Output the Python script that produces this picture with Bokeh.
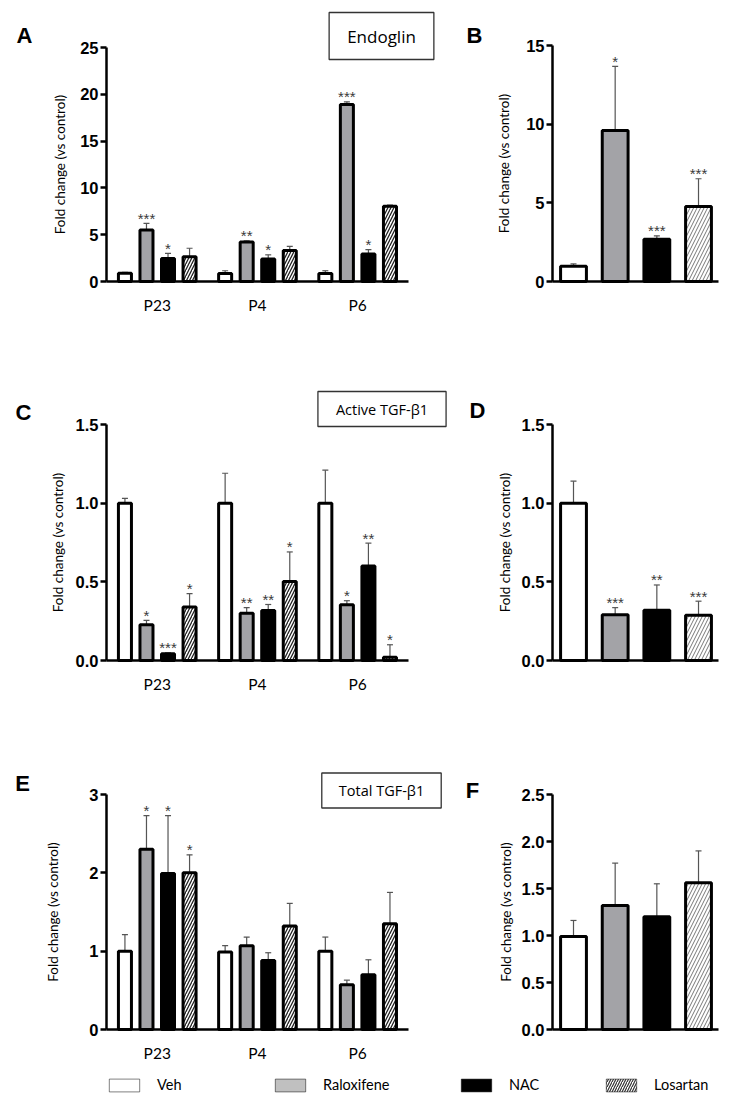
from bokeh.plotting import figure
from bokeh.layouts import column, row
from bokeh.models import (ColumnDataSource, Range1d, FixedTicker, Whisker, TeeHead,
                          Label, Legend, LegendItem, NumeralTickFormatter)
from bokeh.embed import file_html
from bokeh.resources import INLINE
from bokeh.core.properties import value

# ---------------- data ----------------
groups = ["P23", "P4", "P6"]
treatments = ["Veh", "Raloxifene", "NAC", "Losartan"]

# Panel A: Endoglin per passage (rows = groups, cols = treatments)
endoglin_mean = [[0.88, 5.50, 2.45, 2.65], [0.85, 4.22, 2.40, 3.30], [0.85, 18.90, 2.95, 8.05]]
endoglin_sem = [[0.10, 0.70, 0.55, 0.90], [0.30, 0.13, 0.45, 0.45], [0.30, 0.30, 0.45, 0.10]]
endoglin_sig = [["", "***", "*", ""], ["", "**", "*", ""], ["", "***", "*", ""]]
# Panel B: Endoglin pooled
endoglin_all_mean = [0.97, 9.60, 2.69, 4.77]
endoglin_all_sem = [0.15, 4.07, 0.21, 1.76]
endoglin_all_sig = ["", "*", "***", "***"]
# Panel C: Active TGF-b1 per passage
active_mean = [[1.00, 0.228, 0.043, 0.34], [1.00, 0.30, 0.318, 0.502], [1.00, 0.354, 0.60, 0.02]]
active_sem = [[0.03, 0.027, 0.005, 0.085], [0.19, 0.036, 0.038, 0.188], [0.21, 0.026, 0.146, 0.08]]
active_sig = [["", "*", "***", "*"], ["", "**", "**", "*"], ["", "*", "**", "*"]]
# Panel D: Active TGF-b1 pooled
active_all_mean = [1.00, 0.29, 0.32, 0.287]
active_all_sem = [0.14, 0.046, 0.16, 0.09]
active_all_sig = ["", "***", "**", "***"]
# Panel E: Total TGF-b1 per passage
total_mean = [[1.00, 2.30, 1.99, 2.00], [0.99, 1.07, 0.88, 1.32], [1.00, 0.57, 0.70, 1.35]]
total_sem = [[0.21, 0.43, 0.74, 0.23], [0.08, 0.11, 0.10, 0.29], [0.18, 0.06, 0.19, 0.40]]
total_sig = [["", "*", "*", "*"], ["", "", "", ""], ["", "", "", ""]]
# Panel F: Total TGF-b1 pooled
total_all_mean = [0.99, 1.32, 1.20, 1.56]
total_all_sem = [0.17, 0.45, 0.35, 0.34]
total_all_sig = ["", "", "", ""]

# ---------------- styles ----------------
FILLS = ["white", "#a3a3a7", "black", "white"]
HATCH = [None, None, None, "/"]
LEG_FILLS = ["white", "#c0c0c0", "black", "white"]
TICK_FONT = "Liberation Sans"
LABEL_FONT = "Lato"
BOX_FONT = "Open Sans"


class Panel:
    """Figure whose frame fills its canvas; axes drawn at fixed locations."""

    def __init__(self, canvas, xmap, ymap, axis_px, yticks, fmt, standoff, grouped):
        cl, ct, cw, ch = canvas
        self.xmap, self.ymap = xmap, ymap
        x0, x1 = self.xd(cl), self.xd(cl + cw)
        y0, y1 = self.yd(ct + ch), self.yd(ct)
        p = figure(width=cw, height=ch, x_range=Range1d(x0, x1), y_range=Range1d(y0, y1),
                   min_border=0, min_border_left=0, min_border_right=0,
                   min_border_top=0, min_border_bottom=0,
                   toolbar_location=None, output_backend="svg",
                   outline_line_color=None, background_fill_color="white",
                   border_fill_color="white")
        p.xgrid.visible = False
        p.ygrid.visible = False
        ax_left, ax_right = axis_px
        xa_lo, xa_hi = self.xd(ax_left), self.xd(ax_right)
        # y axis
        ya = p.yaxis[0]
        ya.fixed_location = xa_lo
        ya.bounds = (yticks[0], yticks[-1])
        ya.ticker = FixedTicker(ticks=yticks)
        if fmt:
            ya.formatter = NumeralTickFormatter(format=fmt)
        ya.axis_line_width = 2.5
        ya.major_tick_line_width = 2.5
        ya.major_tick_in = 0
        ya.major_tick_out = 6
        ya.minor_tick_line_color = None
        ya.major_label_text_font = TICK_FONT
        ya.major_label_text_font_style = "bold"
        ya.major_label_text_font_size = "16.5px"
        ya.major_label_text_color = "black"
        ya.major_label_standoff = 2
        ya.axis_label = "Fold change (vs control)"
        ya.axis_label_text_font = LABEL_FONT
        ya.axis_label_text_font_style = "normal"
        ya.axis_label_text_font_size = "13.5px"
        ya.axis_label_text_color = "black"
        ya.axis_label_standoff = standoff
        # x axis
        xa = p.xaxis[0]
        xa.fixed_location = 0
        xa.bounds = (xa_lo, xa_hi)
        xa.axis_line_width = 2.5
        xa.minor_tick_line_color = None
        xa.major_tick_line_color = None
        if grouped:
            xa.ticker = FixedTicker(ticks=[0, 1, 2])
            xa.major_label_overrides = {0: groups[0], 1: groups[1], 2: groups[2]}
            xa.major_label_text_font = LABEL_FONT
            xa.major_label_text_font_size = "15.5px"
            xa.major_label_text_color = "black"
            xa.major_label_standoff = 8
        else:
            xa.ticker = FixedTicker(ticks=[])
        self.p = p

    def xd(self, px):
        ref_px, ref_d, ppu = self.xmap
        return ref_d + (px - ref_px) / ppu

    def yd(self, py):
        zero_py, ppu = self.ymap
        return (zero_py - py) / ppu

    def letter(self, px, py, txt):
        self.p.add_layout(Label(x=self.xd(px), y=self.yd(py), text=txt, text_align="center",
                                text_baseline="middle", text_font=TICK_FONT,
                                text_font_style="bold", text_font_size="22px",
                                text_color="black"))

    def boxed(self, px, py, txt, size, hpad, vpad):
        self.p.add_layout(Label(x=self.xd(px), y=self.yd(py), text=txt, text_align="center",
                                text_baseline="middle", text_font=BOX_FONT,
                                text_font_size=size, text_color="black",
                                border_line_color="#333333", border_line_width=1.3,
                                background_fill_color="white",
                                padding=dict(left=hpad, right=hpad, top=vpad, bottom=vpad)))


def add_bars(p, xs_list, tops_list, sems_list, sigs_list, width, hatch_color, hatch_scale, hatch_weight):
    all_x, all_top, all_sig = [], [], []
    for j in range(len(treatments)):
        xs = xs_list[j]
        tops = tops_list[j]
        sems = sems_list[j]
        src = ColumnDataSource(dict(x=xs, top=tops, up=[t + s for t, s in zip(tops, sems)]))
        kw = {}
        if HATCH[j]:
            kw = dict(hatch_pattern=HATCH[j], hatch_color=hatch_color,
                      hatch_scale=hatch_scale, hatch_weight=hatch_weight)
        p.vbar(x="x", top="top", bottom=0, width=width, source=src,
               fill_color=FILLS[j], line_color="black", line_width=3, **kw)
        w = Whisker(source=src, base="x", lower="top", upper="up", dimension="height",
                    line_color="#555555", line_width=1.2, lower_head=None,
                    upper_head=TeeHead(size=6, line_color="#555555", line_width=1.2))
        p.add_layout(w)
        for x, u, s in zip(xs, src.data["up"], sigs_list[j]):
            if s:
                all_x.append(x)
                all_top.append(u)
                all_sig.append(s)
    if all_x:
        ssrc = ColumnDataSource(dict(x=all_x, y=all_top, t=all_sig))
        p.text(x="x", y="y", text="t", source=ssrc, text_align="center",
               text_baseline="alphabetic", y_offset=-5, text_font=value(TICK_FONT),
               text_font_size="15px", text_color="#3a3a3a")


def grouped_panel(canvas, ymap, yticks, fmt, standoff, mean, sem, sig):
    pan = Panel(canvas, (156.75, 0.0, 100.2), ymap, (106, 408), yticks, fmt, standoff, True)
    xs_list, tops_list, sems_list, sigs_list = [], [], [], []
    for j in range(len(treatments)):
        xs_list.append([g + (j - 1.5) * 0.215 for g in range(len(groups))])
        tops_list.append([mean[g][j] for g in range(len(groups))])
        sems_list.append([sem[g][j] for g in range(len(groups))])
        sigs_list.append([sig[g][j] for g in range(len(groups))])
    add_bars(pan.p, xs_list, tops_list, sems_list, sigs_list, 0.13, "#222222", 6, 1.3)
    return pan


def pooled_panel(canvas, ymap, yticks, fmt, standoff, mean, sem, sig):
    pan = Panel(canvas, (573.0, 0.0, 41.67), ymap, (552, 718), yticks, fmt, standoff, False)
    add_bars(pan.p, [[j] for j in range(4)], [[mean[j]] for j in range(4)],
             [[sem[j]] for j in range(4)], [[sig[j]] for j in range(4)],
             0.62, "#777777", 7, 1.0)
    return pan


LW, RW = 455, 274
R1, R2, R3, RL = (0, 328), (328, 372), (700, 368), (1068, 36)

pA = grouped_panel((0, R1[0], LW, R1[1]), (281, 234 / 25), [0, 5, 10, 15, 20, 25],
                   None, 9, endoglin_mean, endoglin_sem, endoglin_sig)
pB = pooled_panel((LW, R1[0], RW, R1[1]), (281, 236 / 15), [0, 5, 10, 15],
                  None, 11, endoglin_all_mean, endoglin_all_sem, endoglin_all_sig)
pC = grouped_panel((0, R2[0], LW, R2[1]), (660, 236 / 1.5), [0, 0.5, 1.0, 1.5],
                   "0.0", 7, active_mean, active_sem, active_sig)
pD = pooled_panel((LW, R2[0], RW, R2[1]), (660, 236 / 1.5), [0, 0.5, 1.0, 1.5],
                  "0.0", 6, active_all_mean, active_all_sem, active_all_sig)
pE = grouped_panel((0, R3[0], LW, R3[1]), (1029, 235 / 3), [0, 1, 2, 3],
                   None, 25, total_mean, total_sem, total_sig)
pF = pooled_panel((LW, R3[0], RW, R3[1]), (1029, 235 / 2.5),
                  [0, 0.5, 1.0, 1.5, 2.0, 2.5], "0.0", 5,
                  total_all_mean, total_all_sem, total_all_sig)

pA.letter(24, 35, "A")
pB.letter(474, 35, "B")
pC.letter(23, 412, "C")
pD.letter(477, 410, "D")
pE.letter(22, 783, "E")
pF.letter(472, 790, "F")
pA.boxed(381, 35.5, "Endoglin", "17px", 18, 12)
pC.boxed(381.5, 408.5, "Active TGF-β1", "14.5px", 18, 8)
pE.boxed(381, 790, "Total TGF-β1", "14.5px", 17, 8)

# ---------------- legend ----------------
LEG_W = LW + RW
pL = figure(width=LEG_W, height=RL[1], x_range=Range1d(0, 1), y_range=Range1d(0, 1),
            min_border=0, min_border_left=0, min_border_right=0, min_border_top=0,
            min_border_bottom=0, toolbar_location=None, output_backend="svg",
            x_axis_location=None, y_axis_location=None, outline_line_color=None)
pL.xgrid.visible = False
pL.ygrid.visible = False
leg_x = [105, 271, 457, 602]
leg_bottom = (RL[0] + RL[1]) - 1093
for j, name in enumerate(treatments):
    kw = {}
    if HATCH[j]:
        kw = dict(hatch_pattern=HATCH[j], hatch_color="#333333", hatch_scale=5, hatch_weight=1.2)
    # swatch renderer: a vanishingly small bar hidden beneath its own legend swatch
    sx = (leg_x[j] + 19) / LEG_W
    sy = (leg_bottom + 8) / RL[1]
    r = pL.vbar(x=[sx], top=[sy + 0.001], bottom=sy, width=0.0005, fill_color=LEG_FILLS[j],
                line_color="black", line_width=0.5, **kw)
    leg = Legend(items=[LegendItem(label=name, renderers=[r])], location=(leg_x[j], leg_bottom),
                 orientation="horizontal", glyph_width=38, glyph_height=16,
                 label_height=16, label_standoff=14, padding=0, margin=0, spacing=0,
                 border_line_color=None, background_fill_alpha=0,
                 label_text_font=LABEL_FONT, label_text_font_size="14.5px",
                 label_text_color="black")
    pL.add_layout(leg)

layout = column(row(pA.p, pB.p), row(pC.p, pD.p), row(pE.p, pF.p), pL)
open("out.html", "w").write(file_html(layout, INLINE))
